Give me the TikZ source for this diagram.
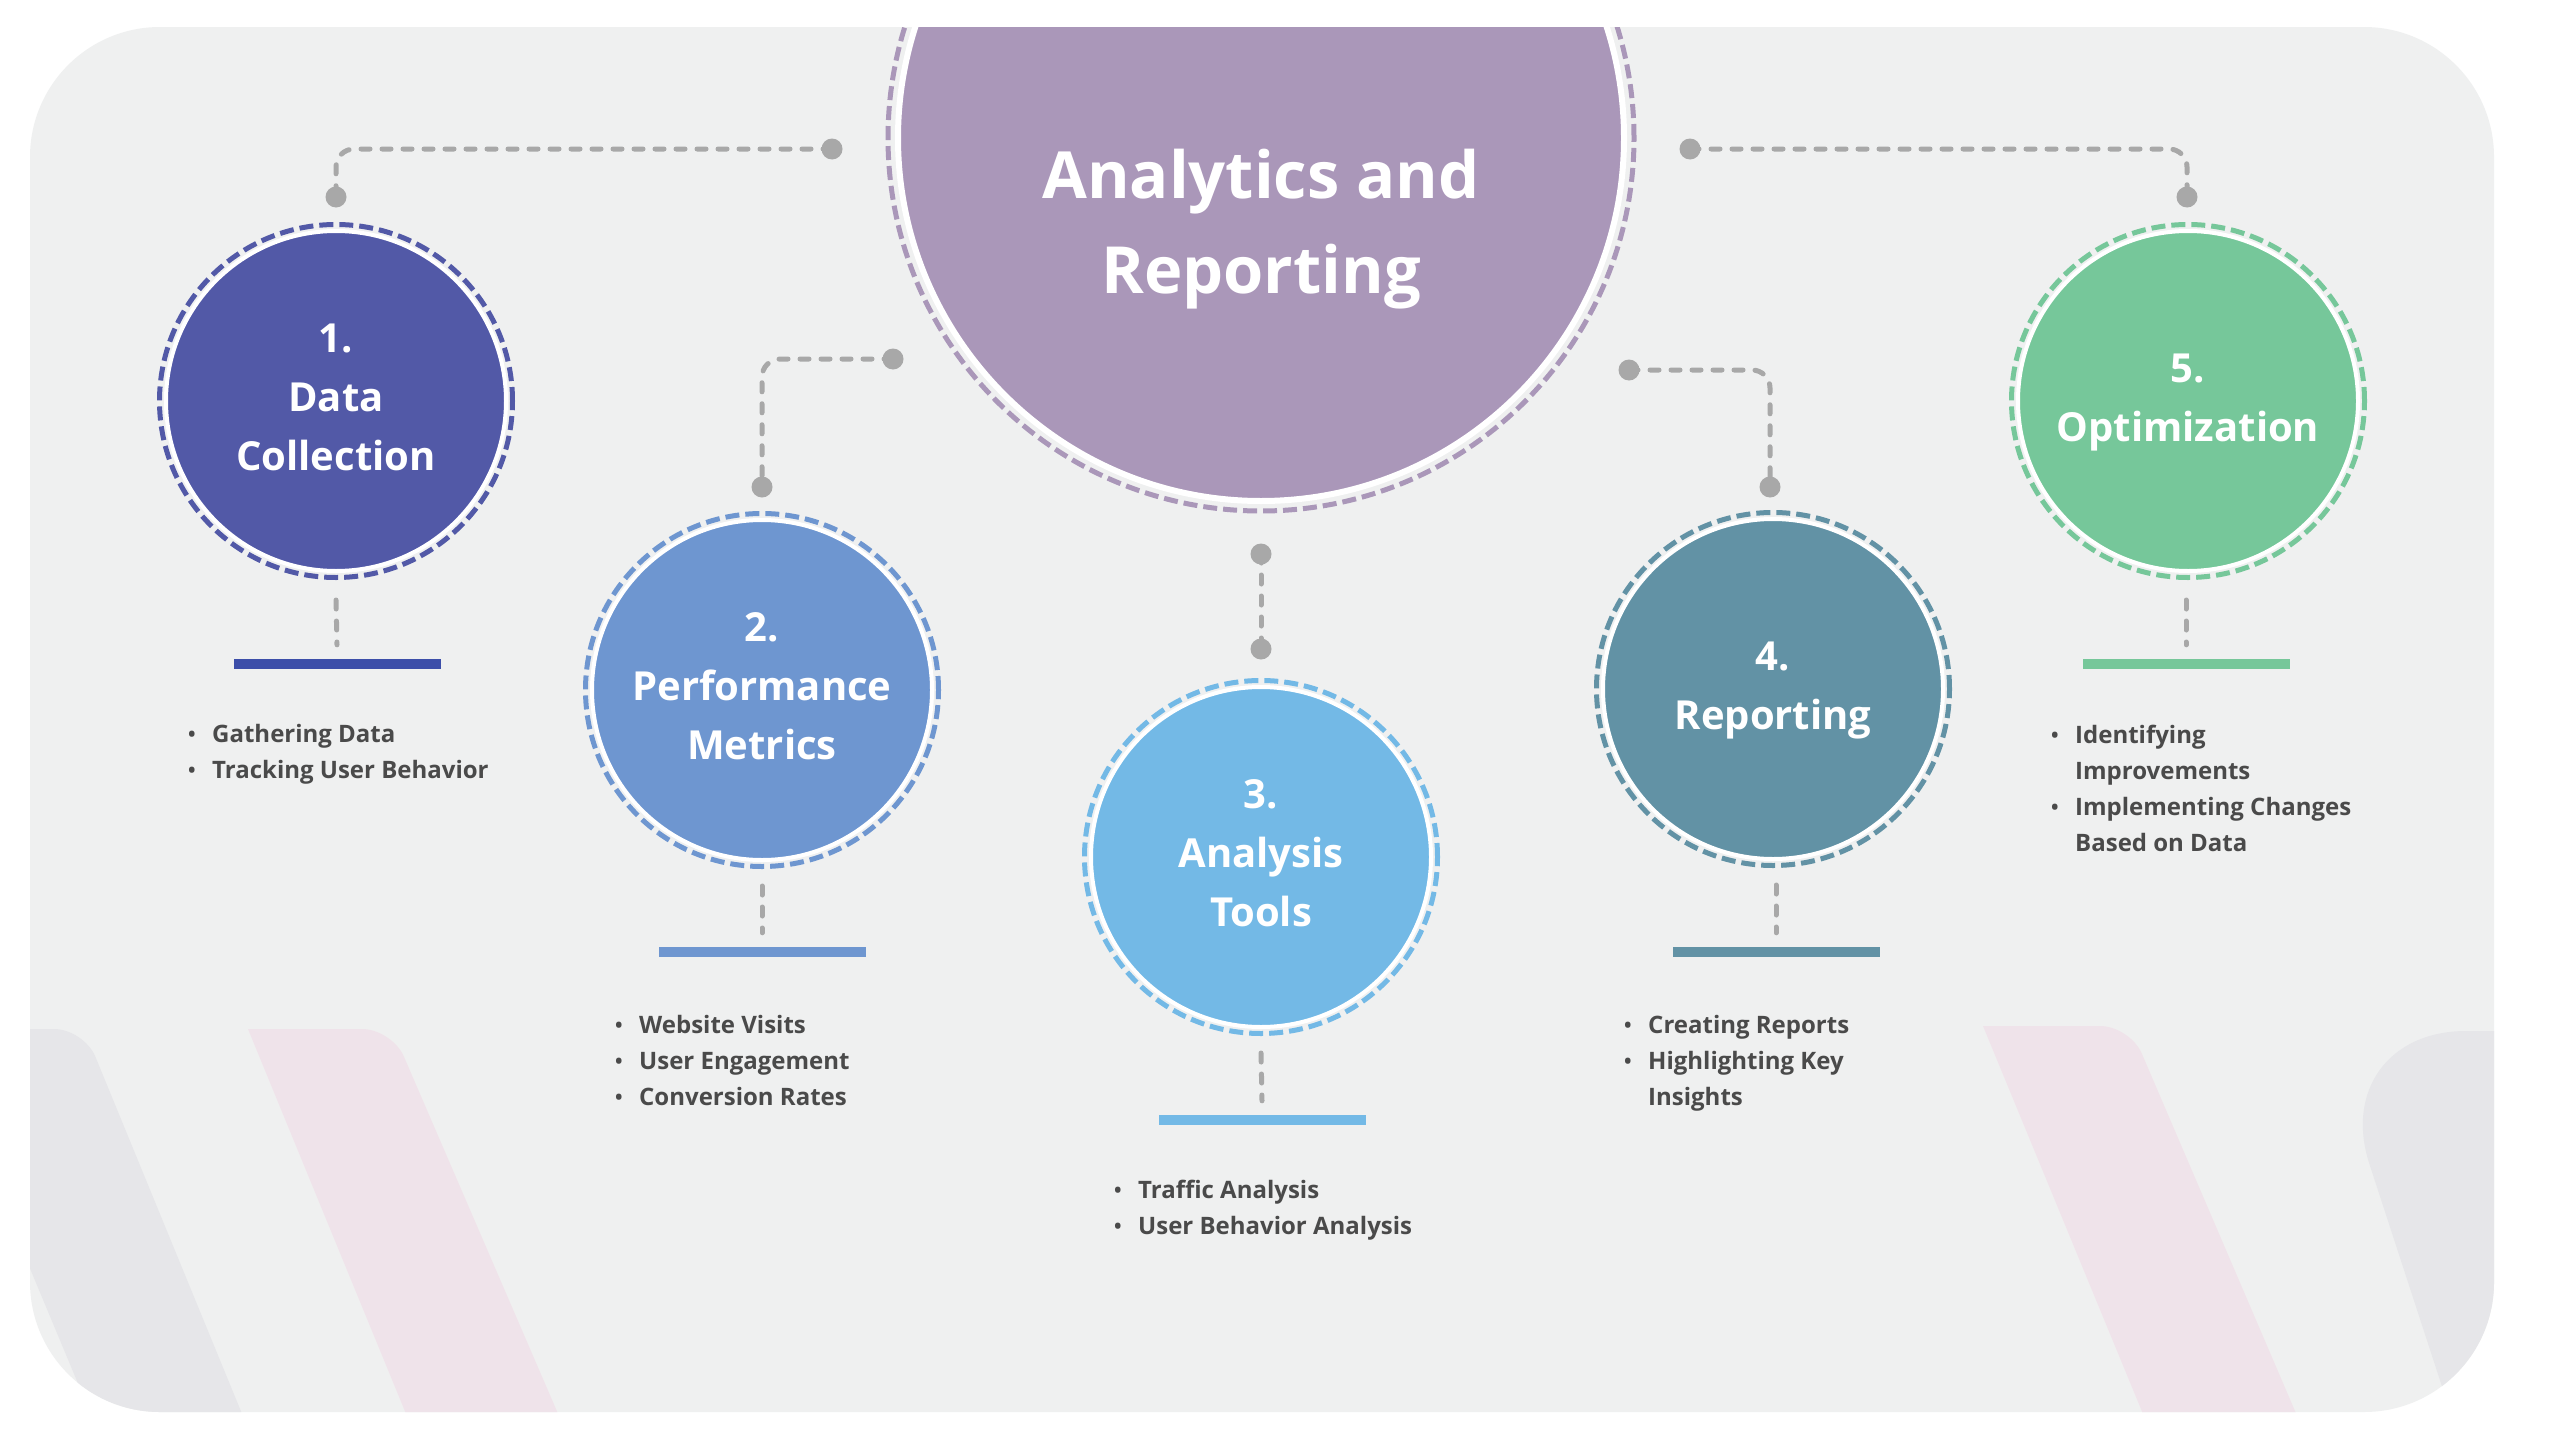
\documentclass[tikz,border=0pt]{standalone}
\usepackage{fontspec}
\setmainfont{Open Sans}
\definecolor{cbg}{HTML}{EFF0F0}
\definecolor{cgrey}{HTML}{A8A8A8}
\definecolor{cpur}{HTML}{AA97B9}
\definecolor{cone}{HTML}{5259A7}
\definecolor{ctwo}{HTML}{6E96D0}
\definecolor{cthree}{HTML}{73B9E6}
\definecolor{cfour}{HTML}{6292A5}
\definecolor{cfive}{HTML}{76C79A}
\definecolor{barone}{HTML}{3C4EA9}
\definecolor{txtgrey}{HTML}{4A4A4A}
\definecolor{decogrey}{HTML}{E6E6E9}
\definecolor{decopink}{HTML}{EFE3EA}
\newcommand{\bux}{\makebox[24pt][l]{\fontsize{20}{20}\selectfont\raisebox{0.5pt}{•}}}
\newcommand{\bindent}{\hspace*{24pt}}
\begin{document}
\begin{tikzpicture}[x=1pt,y=-1pt,
  conn/.style={draw=cgrey, line width=5pt, line cap=round, dash pattern=on 9pt off 12pt, rounded corners=18pt},
  dotc/.style={circle, fill=cgrey, inner sep=0pt, minimum size=21pt},
  bub/.style={circle, inner sep=0pt, minimum size=340pt, draw=white, line width=4pt},
  ringc/.style={line width=5pt, dash pattern=on 14pt off 6pt},
  barc/.style={rectangle, inner sep=0pt, minimum width=207pt, minimum height=10pt},
  lbl/.style={text=white, font=\bfseries\fontsize{40}{59}\selectfont, inner sep=0pt, anchor=base},
  bul/.style={text=txtgrey, font=\bfseries\fontsize{24}{36}\selectfont, inner sep=0pt, anchor=base west},
]
\path[use as bounding box] (0,0) rectangle (2560,1440);
\fill[white] (0,0) rectangle (2560,1440);
\begin{scope}
\clip[rounded corners=130pt] (30,27) rectangle (2494,1412);
\fill[cbg] (0,0) rectangle (2560,1440);
% decorative shapes
\fill[decogrey] (-70,1029) [rounded corners=30pt] -- (84,1029) [sharp corners] -- (261,1460) -- (110,1460) -- cycle;
\fill[decopink] (248,1029) [rounded corners=30pt] -- (392,1029) [sharp corners] -- (578,1460) -- (425,1460) -- cycle;
\fill[decopink] (1983,1026) [rounded corners=30pt] -- (2130,1026) [sharp corners] -- (2316,1460) -- (2162,1460) -- cycle;
\fill[decogrey] (2466,1460) [rounded corners=140pt] -- (2326,1031) -- (2800,1031) [sharp corners] -- (2800,1460) -- cycle;

% central circle
\node[circle, inner sep=0pt, minimum size=726pt, fill=cpur, draw=white, line width=6pt] (c0) at (1261,138) {};
\draw[cpur, ringc] (1261,138) circle[radius=373pt];
\node[text=white, font=\bfseries\fontsize{65}{95}\selectfont, inner sep=0pt, anchor=base] (t0) at (1261,198)
  {\begin{tabular}[t]{@{}c@{}}Analytics and\\Reporting\end{tabular}};

% step circles
\node[bub, fill=cone] (c1) at (336,401) {};
\draw[cone, ringc] (c1.center) circle[radius=176.5pt];
\node[bub, fill=ctwo] (c2) at (762,690) {};
\draw[ctwo, ringc] (c2.center) circle[radius=176.5pt];
\node[bub, fill=cthree] (c3) at (1261,857) {};
\draw[cthree, ringc] (c3.center) circle[radius=176.5pt];
\node[bub, fill=cfour] (c4) at (1773,689) {};
\draw[cfour, ringc] (c4.center) circle[radius=176.5pt];
\node[bub, fill=cfive] (c5) at (2188,401) {};
\draw[cfive, ringc] (c5.center) circle[radius=176.5pt];

\node[lbl] (l1) at (336,352) {\begin{tabular}[t]{@{}c@{}}1.\\Data\\Collection\end{tabular}};
\node[lbl] (l2) at (762,641) {\begin{tabular}[t]{@{}c@{}}2.\\Performance\\Metrics\end{tabular}};
\node[lbl] (l3) at (1261,808) {\begin{tabular}[t]{@{}c@{}}3.\\Analysis\\Tools\end{tabular}};
\node[lbl] (l4) at (1773,670) {\begin{tabular}[t]{@{}c@{}}4.\\Reporting\end{tabular}};
\node[lbl] (l5) at (2188,382) {\begin{tabular}[t]{@{}c@{}}5.\\Optimization\end{tabular}};

% connector dots
\node[dotc] (d1a) at (832,149) {};
\node[dotc] (d1b) at (336,197) {};
\node[dotc] (d2a) at (893,359) {};
\node[dotc] (d2b) at (762,487) {};
\node[dotc] (d3a) at (1261,554) {};
\node[dotc] (d3b) at (1261,649) {};
\node[dotc] (d4a) at (1629,370) {};
\node[dotc] (d4b) at (1770,487) {};
\node[dotc] (d5a) at (1690,149) {};
\node[dotc] (d5b) at (2187,197) {};

\draw[conn] (d1a.center) -| (d1b.center);
\draw[conn] (d2a.center) -| (d2b.center);
\draw[conn] (d3a.center) -- (d3b.center);
\draw[conn] (d4a.center) -| (d4b.center);
\draw[conn] (d5a.center) -| (d5b.center);

% bars
\node[barc, fill=barone] (b1) at (337,664) {};
\node[barc, fill=ctwo] (b2) at (762,952) {};
\node[barc, fill=cthree] (b3) at (1262,1120) {};
\node[barc, fill=cfour] (b4) at (1776,952) {};
\node[barc, fill=cfive] (b5) at (2186,664) {};

\coordinate (s1) at (336,600);
\coordinate (s2) at (762,886);
\coordinate (s3) at (1261,1053);
\coordinate (s4) at (1776,885);
\coordinate (s5) at (2186,600);
\draw[conn] (s1) -- ([yshift=14pt]b1.north);
\draw[conn] (s2) -- ([yshift=14pt]b2.north);
\draw[conn] (s3) -- ([yshift=14pt]b3.north);
\draw[conn] (s4) -- ([yshift=14pt]b4.north);
\draw[conn] (s5) -- ([yshift=14pt]b5.north);

% bullet lists
\node[bul] (u1) at (188,742) {\begin{tabular}[t]{@{}l@{}}\bux Gathering Data\\\bux Tracking User Behavior\end{tabular}};
\node[bul] (u2) at (615,1033) {\begin{tabular}[t]{@{}l@{}}\bux Website Visits\\\bux User Engagement\\\bux Conversion Rates\end{tabular}};
\node[bul] (u3) at (1114,1198) {\begin{tabular}[t]{@{}l@{}}\bux Traffic Analysis\\\bux User Behavior Analysis\end{tabular}};
\node[bul] (u4) at (1624,1033) {\begin{tabular}[t]{@{}l@{}}\bux Creating Reports\\\bux Highlighting Key\\\bindent Insights\end{tabular}};
\node[bul] (u5) at (2051,743) {\begin{tabular}[t]{@{}l@{}}\bux Identifying\\\bindent Improvements\\\bux Implementing Changes\\\bindent Based on Data\end{tabular}};
\end{scope}
\end{tikzpicture}
\end{document}
